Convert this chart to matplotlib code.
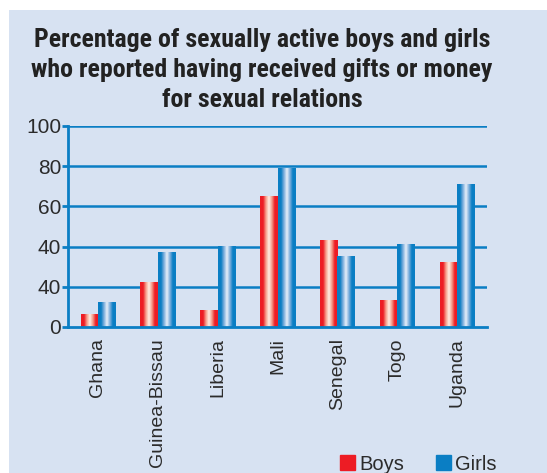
import matplotlib
matplotlib.use("Agg")
import matplotlib.pyplot as plt
from matplotlib.colors import LinearSegmentedColormap
from matplotlib.patches import Patch, Rectangle
from matplotlib import font_manager
import numpy as np

countries = ["Ghana", "Guinea-Bissau", "Liberia", "Mali", "Senegal", "Togo", "Uganda"]
boys = [6, 22, 8, 65, 43, 13, 32]
girls = [12, 37, 40, 79, 35, 41, 71]
ytick_vals = [0, 20, 40, 60, 80, 100]
ytick_labels = ["0", "40", "40", "60", "80", "100"]  # as printed in the original

RED = "#ED1C24"
BLUE = "#0A7EC4"
BG = "#D7E2F2"
TXT = "#2B2B2B"

plt.rcParams["font.family"] = ["Liberation Sans", "DejaVu Sans"]

fig = plt.figure(figsize=(5.47, 4.73), dpi=100)
fig.patch.set_facecolor("white")
fig.patches.append(Rectangle((9 / 547, 0), 1, 1 - 10 / 473, transform=fig.transFigure,
                             facecolor=BG, edgecolor="none", zorder=-10))

ax = fig.add_axes([68 / 547, 1 - 327 / 473, 419 / 547, 201 / 473])
ax.set_facecolor("none")

x = np.arange(len(countries))
w = 0.29
b1 = ax.bar(x - w / 2, boys, w, color=RED, zorder=3)
b2 = ax.bar(x + w / 2, girls, w, color=BLUE, zorder=3)

# shiny stripe on each bar
red_cm = LinearSegmentedColormap.from_list("r", [RED, RED, "#F7A08C", "#FFF0E6", "#F59A88", RED, RED])
blue_cm = LinearSegmentedColormap.from_list("b", [BLUE, BLUE, "#7FB0DD", "#E8F0FA", "#7FB0DD", BLUE, BLUE])
grad = np.linspace(0, 1, 64).reshape(1, -1)
for bars, cm in [(b1, red_cm), (b2, blue_cm)]:
    for p in bars:
        x0, h, bw = p.get_x(), p.get_height(), p.get_width()
        ax.imshow(grad, cmap=cm, extent=(x0, x0 + bw, 0, h), aspect="auto", zorder=4)

ax.set_xlim(-0.5, len(countries) - 0.5)
ax.set_ylim(0, 100)

for v in ytick_vals[1:]:
    ax.axhline(v, color=BLUE, lw=1.8, zorder=2)

for s in ["top", "right"]:
    ax.spines[s].set_visible(False)
for s in ["left", "bottom"]:
    ax.spines[s].set_color(BLUE)
    ax.spines[s].set_linewidth(2)
    ax.spines[s].set_zorder(5)

ax.set_yticks(ytick_vals)
ax.set_yticklabels(ytick_labels)
ax.tick_params(axis="y", colors=BLUE, labelcolor=TXT, labelsize=15, length=4, width=2, pad=1)
ax.set_xticks(x)
ax.set_xticklabels(countries, rotation=90)
ax.tick_params(axis="x", length=0, labelcolor=TXT, labelsize=14, pad=8)

# condensed bold face for the title if one is around
names = {f.name for f in font_manager.fontManager.ttflist}
cond = [n for n in ["Liberation Sans Narrow", "Roboto Condensed", "Open Sans Condensed",
                    "Noto Sans Condensed", "DejaVu Sans Condensed"] if n in names]
title_family = cond + ["DejaVu Sans"]
fig.text(262 / 547, 1 - 70 / 473,
         "Percentage of sexually active boys and girls\nwho reported having received gifts or money\nfor sexual relations",
         ha="center", va="center", fontsize=18.6, fontweight="bold", color="#222222",
         family=title_family, fontstretch="condensed", linespacing=1.3)

handles = [Patch(color=RED, label="Boys"), Patch(color=BLUE, label="Girls")]
fig.legend(handles=handles, loc="lower right", bbox_to_anchor=(515 / 547, -19 / 473), ncol=2,
           frameon=False, fontsize=14.5, handlelength=0.75, handleheight=0.75,
           handletextpad=0.2, columnspacing=1.6, labelcolor=TXT)

fig.savefig("out.png", dpi=100, facecolor="white")
